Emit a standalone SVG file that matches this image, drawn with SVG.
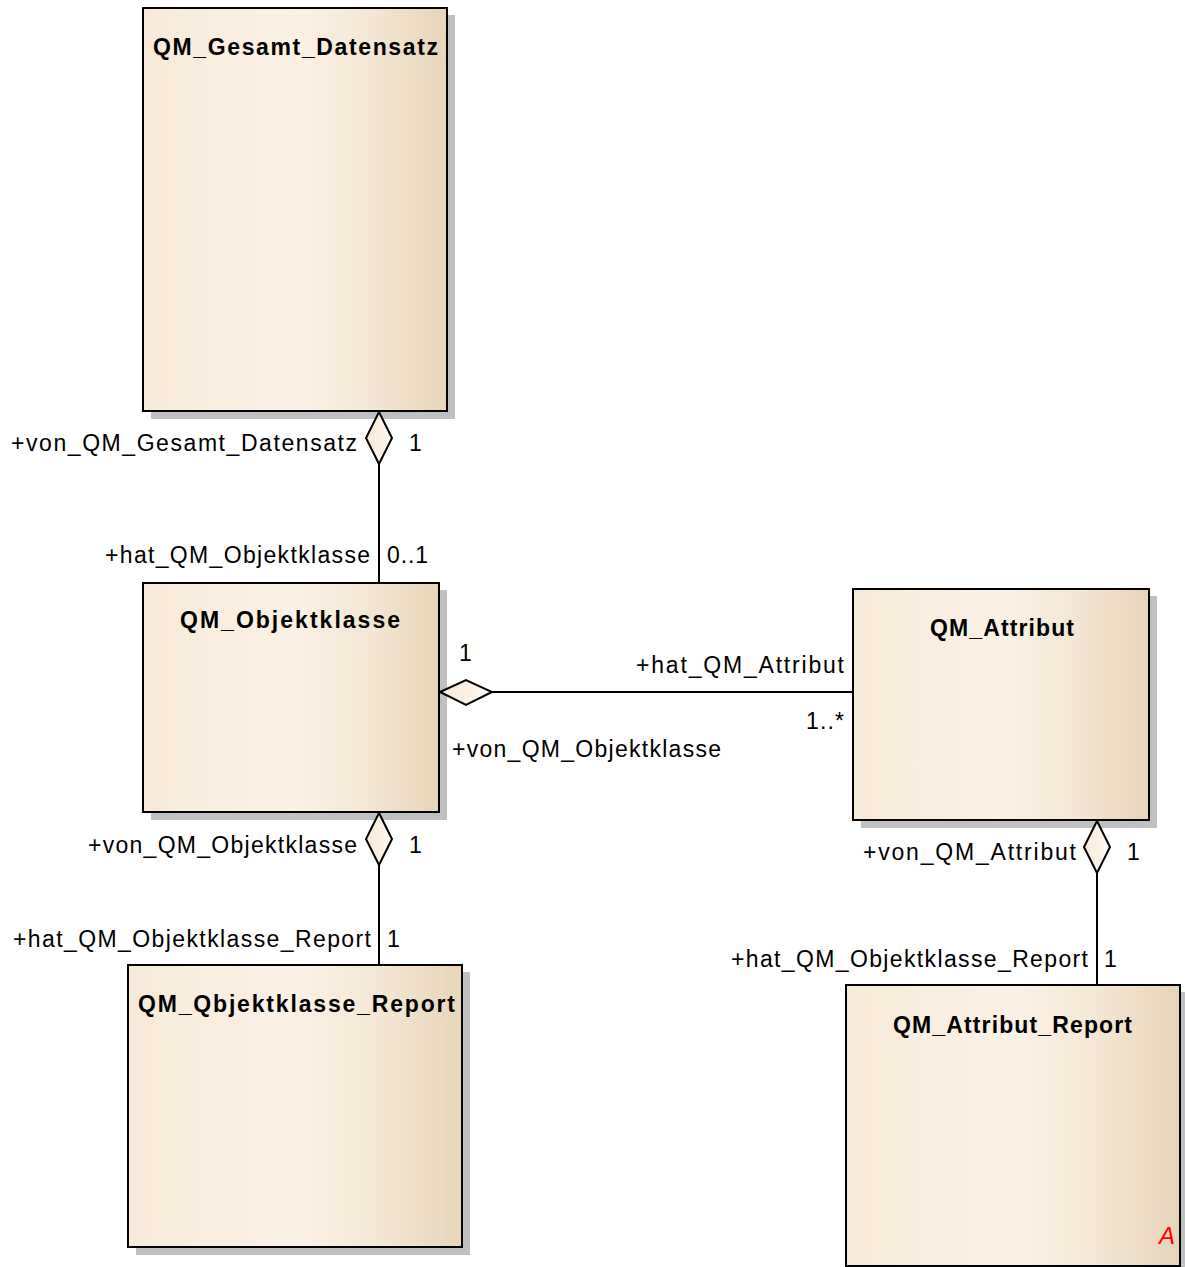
<svg xmlns="http://www.w3.org/2000/svg" width="1185" height="1267" viewBox="0 0 1185 1267">
  <defs>
    <linearGradient id="classFill" x1="0" y1="0" x2="1" y2="0">
      <stop offset="0" stop-color="#F7EADA"/>
      <stop offset="0.5" stop-color="#FBF1E5"/>
      <stop offset="0.75" stop-color="#F4E7D5"/>
      <stop offset="1" stop-color="#E8D5B9"/>
    </linearGradient>
    <linearGradient id="diamondFill" x1="0" y1="0" x2="1" y2="0">
      <stop offset="0" stop-color="#F7EADA"/>
      <stop offset="0.6" stop-color="#FBF1E5"/>
      <stop offset="1" stop-color="#FFFFFF"/>
    </linearGradient>
    <style>
      .shadow { fill: #C0C0C0; stroke: none; }
      .box { fill: url(#classFill); stroke: #000; stroke-width: 2; }
      .title { font-family: "Liberation Sans", Arial, sans-serif; font-size: 23px; font-weight: bold; fill: #000; }
      .lbl { font-family: "Liberation Sans", Arial, sans-serif; font-size: 23px; fill: #000; }
      .edge { stroke: #000; stroke-width: 2; fill: none; }
      .diamond { fill: url(#diamondFill); stroke: #000; stroke-width: 2; stroke-linejoin: miter; }
      .mark { font-family: "Liberation Sans", Arial, sans-serif; font-size: 24px; font-style: italic; fill: #FF0000; }
    </style>
  </defs>
  <rect width="1185" height="1267" fill="#FFFFFF"/>

  <!-- Classes -->
  <g id="QM_Gesamt_Datensatz">
    <rect class="shadow" x="151" y="15" width="304" height="404"/>
    <rect class="box" x="143" y="8" width="304" height="403"/>
    <text class="title" x="153" y="55" textLength="285" lengthAdjust="spacing">QM_Gesamt_Datensatz</text>
  </g>

  <g id="QM_Objektklasse">
    <rect class="shadow" x="151" y="590" width="296" height="230"/>
    <rect class="box" x="143" y="583" width="296" height="229"/>
    <text class="title" x="180" y="628" textLength="220" lengthAdjust="spacing">QM_Objektklasse</text>
  </g>

  <g id="QM_Attribut">
    <rect class="shadow" x="861" y="596" width="296" height="232"/>
    <rect class="box" x="853" y="589" width="296" height="231"/>
    <text class="title" x="930" y="636" textLength="144" lengthAdjust="spacing">QM_Attribut</text>
  </g>

  <g id="QM_Qbjektklasse_Report">
    <rect class="shadow" x="136" y="972" width="334" height="283"/>
    <rect class="box" x="128" y="965" width="334" height="282"/>
    <text class="title" x="138" y="1012" textLength="317" lengthAdjust="spacing">QM_Qbjektklasse_Report</text>
  </g>

  <g id="QM_Attribut_Report">
    <rect class="shadow" x="854" y="992" width="334" height="282"/>
    <rect class="box" x="846" y="985" width="334" height="281"/>
    <text class="title" x="893" y="1033" textLength="239" lengthAdjust="spacing">QM_Attribut_Report</text>
    <text class="mark" x="1159" y="1244">A</text>
  </g>

  <!-- Connectors (aggregations), drawn over the class shadows -->
  <g id="connectors">
    <!-- QM_Gesamt_Datensatz <>- QM_Objektklasse -->
    <g id="edge-gesamt-objekt">
      <line class="edge" x1="379" y1="464" x2="379" y2="583"/>
      <path class="diamond" d="M379,412 L392,438 L379,464 L366,438 Z"/>
      <text class="lbl" x="11" y="451" textLength="346" lengthAdjust="spacing">+von_QM_Gesamt_Datensatz</text>
      <text class="lbl" x="409" y="451">1</text>
      <text class="lbl" x="105" y="563" textLength="265" lengthAdjust="spacing">+hat_QM_Objektklasse</text>
      <text class="lbl" x="387" y="563" textLength="41" lengthAdjust="spacing">0..1</text>
    </g>
    <!-- QM_Objektklasse <>- QM_Attribut -->
    <g id="edge-objekt-attribut">
      <line class="edge" x1="492" y1="692" x2="853" y2="692"/>
      <path class="diamond" d="M440,692 L466,680 L492,692 L466,705 Z"/>
      <text class="lbl" x="459" y="661">1</text>
      <text class="lbl" x="636" y="673" textLength="208" lengthAdjust="spacing">+hat_QM_Attribut</text>
      <text class="lbl" x="806" y="729" textLength="38" lengthAdjust="spacing">1..*</text>
      <text class="lbl" x="452" y="757" textLength="269" lengthAdjust="spacing">+von_QM_Objektklasse</text>
    </g>
    <!-- QM_Objektklasse <>- QM_Qbjektklasse_Report -->
    <g id="edge-objekt-report">
      <line class="edge" x1="379" y1="865" x2="379" y2="965"/>
      <path class="diamond" d="M379,813 L392,839 L379,865 L366,839 Z"/>
      <text class="lbl" x="88" y="853" textLength="269" lengthAdjust="spacing">+von_QM_Objektklasse</text>
      <text class="lbl" x="409" y="853">1</text>
      <text class="lbl" x="13" y="947" textLength="358" lengthAdjust="spacing">+hat_QM_Objektklasse_Report</text>
      <text class="lbl" x="387" y="947">1</text>
    </g>
    <!-- QM_Attribut <>- QM_Attribut_Report -->
    <g id="edge-attribut-report">
      <line class="edge" x1="1097" y1="873" x2="1097" y2="985"/>
      <path class="diamond" d="M1097,821 L1110,847 L1097,873 L1084,847 Z"/>
      <text class="lbl" x="863" y="860" textLength="213" lengthAdjust="spacing">+von_QM_Attribut</text>
      <text class="lbl" x="1127" y="860">1</text>
      <text class="lbl" x="731" y="967" textLength="357" lengthAdjust="spacing">+hat_QM_Objektklasse_Report</text>
      <text class="lbl" x="1104" y="967">1</text>
    </g>
  </g>
</svg>
